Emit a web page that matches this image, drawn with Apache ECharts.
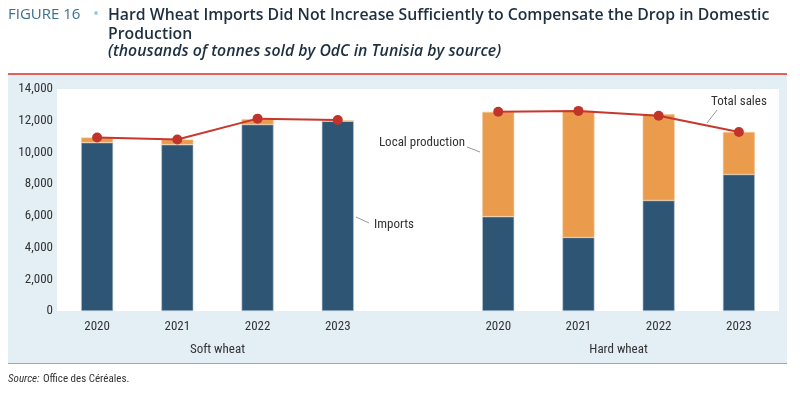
<!DOCTYPE html>
<html><head><meta charset="utf-8">
<script src="https://cdn.jsdelivr.net/npm/echarts@6/dist/echarts.min.js"></script>
<style>html,body{margin:0;padding:0;background:#fff}#c{width:800px;height:394px}</style>
</head><body><div id="c"></div>
<script>
var softYears = ['2020','2021','2022','2023'];
var hardYears = ['2020','2021','2022','2023'];
var groupLabels = ['Soft wheat','Hard wheat'];
var softImports = [10620, 10490, 11760, 11970];
var softLocal = [320, 320, 340, 50];
var softTotal = [10940, 10810, 12130, 12040];
var hardImports = [5950, 4640, 6970, 8610];
var hardLocal = [6610, 7980, 5440, 2680];
var hardTotal = [12560, 12620, 12310, 11290];
var yTicks = [0, 2000, 4000, 6000, 8000, 10000, 12000, 14000];

var categories = softYears.map(function(y){return 'S'+y;}).concat(['gap']).concat(hardYears.map(function(y){return 'H'+y;}));
var imports = softImports.concat([null]).concat(hardImports);
var local = softLocal.concat([null]).concat(hardLocal);
var total = softTotal.concat([null]).concat(hardTotal);

var font = '"Liberation Sans Narrow","Arial Narrow","Roboto Condensed",Roboto,sans-serif';
var chart = echarts.init(document.getElementById('c'), null, {renderer:'canvas'});
var option = {
  animation: false,
  backgroundColor: '#fff',
  grid: {left: 57, right: 21, top: 89, bottom: 83, show: true, backgroundColor: '#ffffff', borderWidth: 0},
  xAxis: {
    type: 'category', data: categories,
    axisLine: {show: false}, axisTick: {show: false},
    axisLabel: {color: '#333', fontFamily: font, fontSize: 13, margin: 9,
      formatter: function(v){ return v === 'gap' ? '' : v.slice(1); }}
  },
  yAxis: {
    type: 'value', min: yTicks[0], max: yTicks[yTicks.length-1], interval: yTicks[1]-yTicks[0],
    splitLine: {show: false}, axisLine: {show: false}, axisTick: {show: false},
    axisLabel: {color: '#333', fontFamily: font, fontSize: 13, margin: 4,
      formatter: function(v){ return v.toLocaleString('en-US'); }}
  },
  series: [
    {name: 'Imports', type: 'bar', stack: 's', data: imports, barWidth: 32,
      itemStyle: {color: '#2f5574', borderColor: '#b8c9d6', borderWidth: 0.6}},
    {name: 'Local production', type: 'bar', stack: 's', data: local, barWidth: 32,
      itemStyle: {color: '#eb9b4c', borderColor: '#f3c79a', borderWidth: 0.6}},
    {name: 'Total sales', type: 'line', data: total, connectNulls: false,
      symbol: 'circle', symbolSize: 10, z: 5,
      lineStyle: {color: '#c8372d', width: 2}, itemStyle: {color: '#c0342a'}}
  ],
  graphic: []
};
chart.setOption(option);

function px(i, v){ return chart.convertToPixel({xAxisIndex:0, yAxisIndex:0}, [i, v]); }
var p1 = px(1, 0), p2 = px(2, 0), p6 = px(6, 0), p7 = px(7, 0);
var softX = (p1[0] + p2[0]) / 2, hardX = (p6[0] + p7[0]) / 2;

var g = [
  {type: 'rect', z: -10, shape: {x: 8, y: 75, width: 779, height: 288}, style: {fill: '#e4eff5'}},
  {type: 'rect', z: -5, shape: {x: 8, y: 73, width: 779, height: 2}, style: {fill: '#e0615a'}},
  {type: 'rect', z: -5, shape: {x: 8, y: 363, width: 779, height: 1}, style: {fill: '#e58a84'}},
  {type: 'text', left: 8, top: 7, style: {text: 'FIGURE 16', fill: '#3b6f8e', font: '15px "Open Sans", sans-serif'}},
  {type: 'text', left: 93, top: 6, style: {text: '•', fill: '#9cc7de', font: '16px "Open Sans", sans-serif'}},
  {type: 'text', left: 108, top: 6, style: {text: 'Hard Wheat Imports Did Not Increase Sufficiently to Compensate the Drop in Domestic\nProduction', fill: '#1e2f40', font: '600 15.8px "Open Sans", sans-serif', lineHeight: 19}},
  {type: 'text', left: 108, top: 43, style: {text: '(thousands of tonnes sold by OdC in Tunisia by source)', fill: '#1e2f40', font: 'italic 600 15.8px "Open Sans", sans-serif'}},
  {type: 'text', x: softX, y: 350, style: {text: groupLabels[0], fill: '#333', font: '13px ' + font, align: 'center', verticalAlign: 'middle'}},
  {type: 'text', x: hardX, y: 350, style: {text: groupLabels[1], fill: '#333', font: '13px ' + font, align: 'center', verticalAlign: 'middle'}},
  {type: 'text', left: 8, top: 373, style: {rich: {a: {fill: '#333', font: 'italic 11px ' + font}, b: {fill: '#333', font: '11px ' + font}}, text: '{a|Source:} {b|Office des Céréales.}'}},
  {type: 'line', shape: {x1: 356, y1: 217, x2: 369, y2: 223}, style: {stroke: '#999', lineWidth: 1}},
  {type: 'text', x: 374, y: 225, style: {text: 'Imports', fill: '#333', font: '13px ' + font, verticalAlign: 'middle'}},
  {type: 'line', shape: {x1: 467, y1: 147, x2: 480, y2: 152}, style: {stroke: '#999', lineWidth: 1}},
  {type: 'text', x: 465, y: 143, style: {text: 'Local production', fill: '#333', font: '13px ' + font, align: 'right', verticalAlign: 'middle'}},
  {type: 'line', shape: {x1: 717, y1: 110, x2: 707, y2: 123}, style: {stroke: '#999', lineWidth: 1}},
  {type: 'text', x: 711, y: 102, style: {text: 'Total sales', fill: '#333', font: '13px ' + font, verticalAlign: 'middle'}}
];
chart.setOption({graphic: g});
</script></body></html>
